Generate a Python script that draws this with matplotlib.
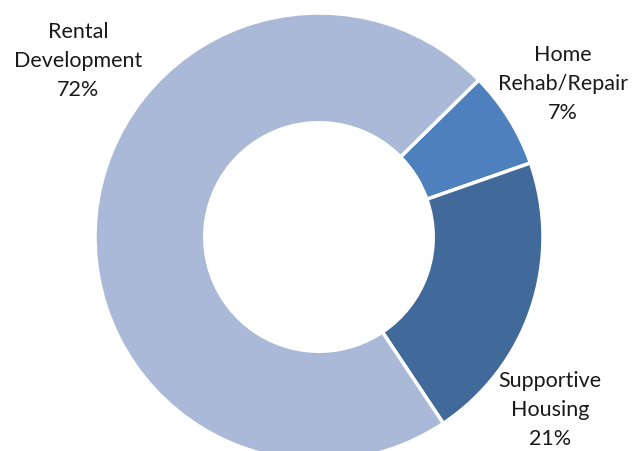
import matplotlib
matplotlib.use("Agg")
import matplotlib.pyplot as plt

# data
categories = ["Home\nRehab/Repair", "Supportive\nHousing", "Rental\nDevelopment"]
shares = [7, 21, 72]
colors = ["#4E80BD", "#416A9A", "#AAB9D7"]

plt.rcParams["font.family"] = ["Lato", "DejaVu Sans"]

W, H = 641, 452
cx, cy, R = 319, 238, 224  # pixel centre / outer radius of the ring

fig = plt.figure(figsize=(W / 100, H / 100), dpi=100)
ax = fig.add_axes([0, 0, 1, 1])
ax.pie(
    shares,
    colors=colors,
    startangle=44.5,
    counterclock=False,
    radius=1,
    wedgeprops=dict(width=0.49, edgecolor="white", linewidth=2.5),
)
ax.set_xlim(-cx / R, (W - cx) / R)
ax.set_ylim(-(H - cy) / R, cy / R)
ax.set_aspect("equal")
ax.axis("off")

# label positions in pixels (centre of text block)
label_px = [(563, 84), (550, 410), (78, 61)]
for name, val, (px, py) in zip(categories, shares, label_px):
    ax.text((px - cx) / R, (cy - py) / R, f"{name}\n{val}%",
            ha="center", va="center", fontsize=15.5, linespacing=1.55,
            color="#1a1a1a")

fig.savefig("out.png", dpi=100)
